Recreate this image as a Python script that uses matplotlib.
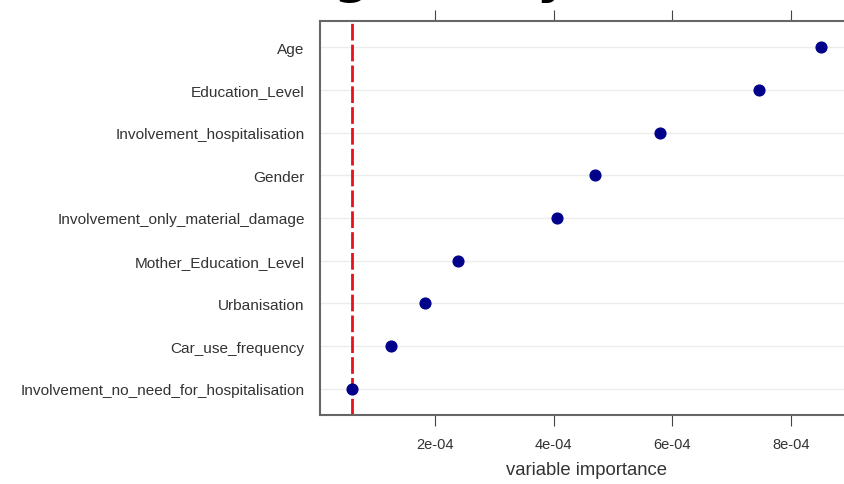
import matplotlib.pyplot as plt

plt.rcParams['font.family'] = ['Liberation Sans', 'DejaVu Sans']

variables = ['Involvement_no_need_for_hospitalisation', 'Car_use_frequency',
             'Urbanisation', 'Mother_Education_Level',
             'Involvement_only_material_damage', 'Gender',
             'Involvement_hospitalisation', 'Education_Level', 'Age']
importance = [0.60e-4, 1.26e-4, 1.83e-4, 2.39e-4, 4.06e-4,
              4.70e-4, 5.80e-4, 7.47e-4, 8.51e-4]
threshold = 0.60e-4
x_ticks = [2e-4, 4e-4, 6e-4, 8e-4]
x_tick_labels = ['2e-04', '4e-04', '6e-04', '8e-04']

W, H = 845, 485
fig = plt.figure(figsize=(W / 100, H / 100), dpi=100)
# axes runs past the right edge like the cropped original
ax = fig.add_axes([320 / W, 1 - 416 / H, (853 - 320) / W, (416 - 22) / H])

rows = list(range(1, len(variables) + 1))
for r in rows:
    ax.axhline(r, color='#ececec', lw=1, zorder=0)
ax.axvline(threshold, color='#e8101a', lw=2, ls=(0, (6, 1.5)), zorder=1)
ax.scatter(importance, rows, s=60, color='#00008b', zorder=3)

ax.set_xlim(0.059e-4, 9.05e-4)
ax.set_ylim(0.39, 9.61)
ax.set_yticks(rows)
ax.set_yticklabels(variables, fontsize=11.1, color='#333333')
ax.tick_params(axis='y', length=0, pad=11)
ax.set_xticks(x_ticks)
ax.set_xticklabels(x_tick_labels, fontsize=10.5, color='#333333')
ax.tick_params(axis='x', top=True, direction='out', length=8,
               color='#444444', pad=8)
ax.set_xlabel('variable importance', fontsize=13.3, color='#333333', labelpad=7)
for s in ax.spines.values():
    s.set_color('#666666')
    s.set_linewidth(1.5)

# big title, mostly cut off at the top of the original
fig.text(367 / W, 1 + 7 / H, 'Driving Safety', fontsize=36, fontweight='bold',
         ha='center', va='baseline', family='DejaVu Sans')

fig.savefig('out.png', dpi=100)
